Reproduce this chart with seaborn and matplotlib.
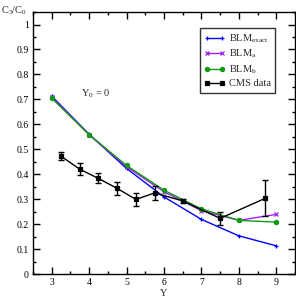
import numpy as np
import pandas as pd
import matplotlib
matplotlib.use("Agg")
import matplotlib.pyplot as plt
import seaborn as sns
from matplotlib.ticker import MultipleLocator

# BLM curves
y_blm = [3, 4, 5, 6, 7, 8, 9]
blm_exact = [0.713, 0.560, 0.423, 0.309, 0.219, 0.153, 0.113]
blm_a = [0.708, 0.559, 0.430, 0.330, 0.254, 0.215, 0.239]
blm_b = [0.705, 0.558, 0.435, 0.336, 0.261, 0.215, 0.208]

# CMS data
y_cms = [3.25, 3.75, 4.25, 4.75, 5.25, 5.75, 6.5, 7.5, 8.7]
cms = [0.472, 0.420, 0.383, 0.343, 0.299, 0.325, 0.293, 0.223, 0.303]
cms_err = [0.017, 0.023, 0.020, 0.027, 0.027, 0.027, 0.008, 0.027, 0.072]

sns.set_style("ticks")
plt.rcParams["font.family"] = ["Liberation Serif", "DejaVu Serif"]
plt.rcParams["mathtext.fontset"] = "custom"
plt.rcParams["mathtext.rm"] = "Liberation Serif"
plt.rcParams["mathtext.it"] = "Liberation Serif:italic"

fig = plt.figure(figsize=(2.96, 2.97), dpi=100)
ax = fig.add_axes([0.1115, 0.0774, 0.885, 0.882])

df_exact = pd.DataFrame({"Y": y_blm, "v": blm_exact})
df_a = pd.DataFrame({"Y": y_blm, "v": blm_a})
df_b = pd.DataFrame({"Y": y_blm, "v": blm_b})
df_cms = pd.DataFrame({"Y": y_cms, "v": cms})

series = [
    (df_exact, "#0000ff", "+", 3.5, r"BLM$_{\mathrm{exact}}$"),
    (df_a, "#a020f0", "x", 2.5, r"BLM$_{\mathrm{a}}$"),
    (df_b, "#129a12", "o", 3.0, r"BLM$_{\mathrm{b}}$"),
    (df_cms, "black", "s", 2.5, "CMS data"),
]
for d, c, m, ms, lab in series:
    sns.lineplot(data=d, x="Y", y="v", ax=ax, color=c, marker=m,
                 markersize=ms, markeredgewidth=0.9, markeredgecolor=c,
                 markerfacecolor=c, lw=1, label=lab)

ax.errorbar(y_cms, cms, yerr=cms_err, fmt="none", ecolor="black",
            elinewidth=1, capsize=2.5, capthick=1)

ax.set_xlim(2.5, 9.5)
ax.set_ylim(0, 1.05)
ax.xaxis.set_major_locator(MultipleLocator(1))
ax.xaxis.set_minor_locator(MultipleLocator(0.5))
ax.yaxis.set_major_locator(MultipleLocator(0.1))
ax.yaxis.set_minor_locator(MultipleLocator(0.05))
ax.set_yticks(np.arange(0, 1.01, 0.1))
ax.set_yticklabels(["0", "0.1", "0.2", "0.3", "0.4", "0.5", "0.6", "0.7", "0.8", "0.9", "1"])
ax.tick_params(which="both", direction="in", top=True, right=True,
               labelsize=7, width=1, colors="black", pad=3)
ax.tick_params(which="major", length=5)
ax.tick_params(which="minor", length=2.5)
for s in ax.spines.values():
    s.set_linewidth(1)
    s.set_color("black")

ax.set_xlabel("Y", fontsize=7.5, labelpad=1)
ax.set_ylabel("")
fig.text(0.005, 0.985, r"C$_3$/C$_0$", fontsize=7.5, ha="left", va="top")
ax.text(3.78, 0.71, r"Y$_0$ = 0", fontsize=7.5, ha="left", va="baseline")

leg = ax.legend(loc="upper right", bbox_to_anchor=(0.924, 0.939), numpoints=2,
                fontsize=7.5, frameon=True, fancybox=False, handlelength=2.0,
                handletextpad=0.4, borderpad=0.4, labelspacing=0.3,
                borderaxespad=0)
leg.get_frame().set_edgecolor("black")
leg.get_frame().set_linewidth(1)

fig.savefig("out.png", dpi=100)
